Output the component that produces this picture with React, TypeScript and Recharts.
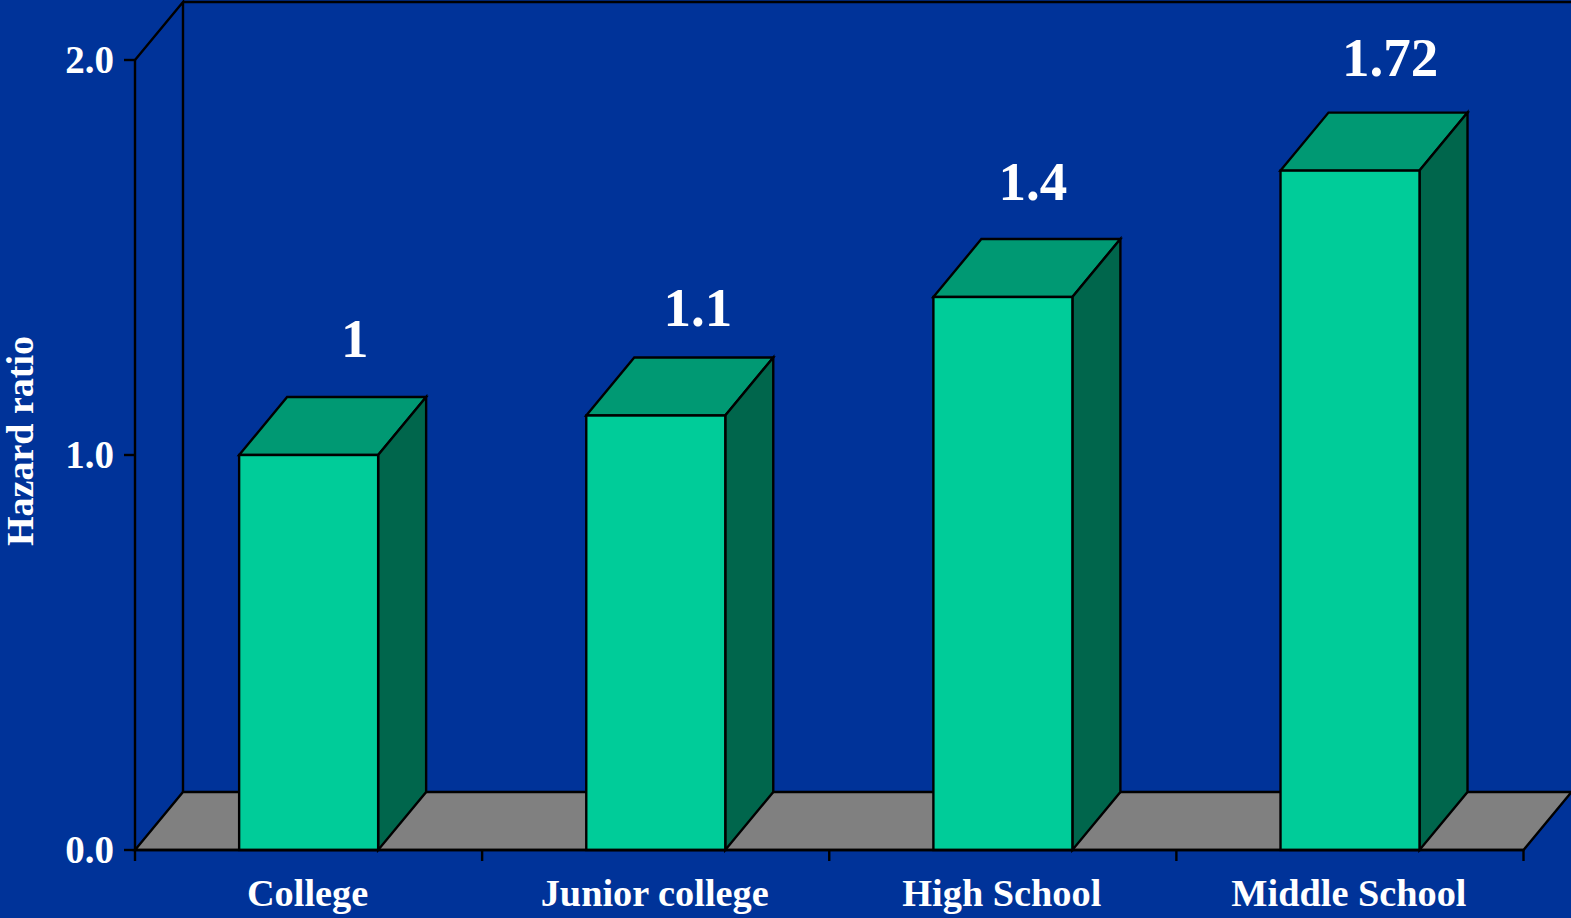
import { BarChart, Bar, XAxis, YAxis, LabelList, Customized, Label } from "recharts"

const CATEGORIES = ["College", "Junior college", "High School", "Middle School"]
const HAZARD_RATIOS = [1, 1.1, 1.4, 1.72]
const Y_TICKS = [0, 1, 2]
const BOUNDARY_TICKS = [0, 1, 2, 3, 4]

// nudges for the value labels, which sit freely above each column
const LABEL_SHIFT_X = [46, 42, 30, 40]
const LABEL_RISE = [98, 90, 97, 95]

const WIDTH = 1571
const HEIGHT = 918
const MARGIN = { top: 60, right: 47.5, left: 0, bottom: 0 }
const Y_AXIS_WIDTH = 135
const X_AXIS_HEIGHT = 68
const DEPTH_X = 48
const DEPTH_Y = 58
const LINE = 2.4

const BLUE = "#003399"
const FRONT = "#00CC99"
const TOP = "#009973"
const SIDE = "#00664C"
const FLOOR = "#808080"
const INK = "#000000"
const FONT = "'Liberation Serif', 'Times New Roman', serif"

const data = CATEGORIES.map((name, i) => ({ name, value: HAZARD_RATIOS[i], slot: i }))

// back wall edges and the grey floor, drawn behind the columns
function Frame() {
  const left = Y_AXIS_WIDTH
  const right = WIDTH - MARGIN.right
  const top = MARGIN.top
  const bottom = HEIGHT - X_AXIS_HEIGHT
  return (
    <g>
      <polygon
        points={`${left},${bottom} ${left + DEPTH_X},${bottom - DEPTH_Y} ${right + DEPTH_X},${bottom - DEPTH_Y} ${right},${bottom}`}
        fill={FLOOR}
        stroke={INK}
        strokeWidth={LINE}
      />
      <polyline
        points={`${left},${top} ${left + DEPTH_X},${top - DEPTH_Y} ${left + DEPTH_X},${bottom - DEPTH_Y}`}
        fill="none"
        stroke={INK}
        strokeWidth={LINE}
      />
      <line x1={left + DEPTH_X} y1={top - DEPTH_Y} x2={WIDTH} y2={top - DEPTH_Y} stroke={INK} strokeWidth={LINE} />
    </g>
  )
}

function Column({ x, y, width, height }: any) {
  const r = x + width
  const b = y + height
  return (
    <g stroke={INK} strokeWidth={LINE} strokeLinejoin="miter">
      <polygon
        points={`${x},${y} ${x + DEPTH_X},${y - DEPTH_Y} ${r + DEPTH_X},${y - DEPTH_Y} ${r},${y}`}
        fill={TOP}
      />
      <polygon
        points={`${r},${y} ${r + DEPTH_X},${y - DEPTH_Y} ${r + DEPTH_X},${b - DEPTH_Y} ${r},${b}`}
        fill={SIDE}
      />
      <rect x={x} y={y} width={width} height={height} fill={FRONT} />
    </g>
  )
}

function ValueLabel({ x, y, width, value, index }: any) {
  return (
    <text
      x={x + width / 2 + LABEL_SHIFT_X[index]}
      y={y - LABEL_RISE[index]}
      textAnchor="middle"
      fill="#ffffff"
      fontFamily={FONT}
      fontWeight="bold"
      fontSize={55}
    >
      {String(value)}
    </text>
  )
}

function AxisTitle() {
  return (
    <text
      transform="translate(33,441) rotate(-90)"
      textAnchor="middle"
      fill="#ffffff"
      fontFamily={FONT}
      fontWeight="bold"
      fontSize={38}
    >
      Hazard ratio
    </text>
  )
}

export default function App() {
  const tickStyle = { fill: "#ffffff", fontFamily: FONT, fontWeight: "bold" }
  return (
    <div style={{ position: "absolute", left: 0, top: 0, width: WIDTH, height: HEIGHT, background: BLUE, overflow: "hidden" }}>
      <BarChart width={WIDTH} height={HEIGHT} data={data} margin={MARGIN} barCategoryGap="30%">
        <Customized component={Frame} />
        {/* numeric axis only carries the ticks between categories */}
        <XAxis
          xAxisId="frame"
          type="number"
          dataKey="slot"
          domain={[0, 4]}
          ticks={BOUNDARY_TICKS}
          height={1}
          tick={() => <g />}
          tickSize={11}
          tickLine={{ stroke: INK, strokeWidth: LINE }}
          axisLine={{ stroke: INK, strokeWidth: LINE }}
          interval={0}
        />
        <XAxis
          xAxisId="names"
          dataKey="name"
          height={X_AXIS_HEIGHT - 1}
          axisLine={false}
          tickLine={false}
          tick={{ ...tickStyle, fontSize: 38.3, dx: -1 }}
          tickMargin={22}
          interval={0}
        />
        <YAxis
          domain={[0, 2]}
          ticks={Y_TICKS}
          width={Y_AXIS_WIDTH}
          tick={{ ...tickStyle, fontSize: 39, dy: -1 }}
          tickFormatter={(v: number) => v.toFixed(1)}
          tickSize={11}
          tickMargin={10}
          tickLine={{ stroke: INK, strokeWidth: LINE }}
          axisLine={{ stroke: INK, strokeWidth: LINE }}
        >
          <Label content={AxisTitle} />
        </YAxis>
        <Bar xAxisId="names" dataKey="value" shape={Column} isAnimationActive={false}>
          <LabelList dataKey="value" content={ValueLabel} />
        </Bar>
      </BarChart>
    </div>
  )
}
